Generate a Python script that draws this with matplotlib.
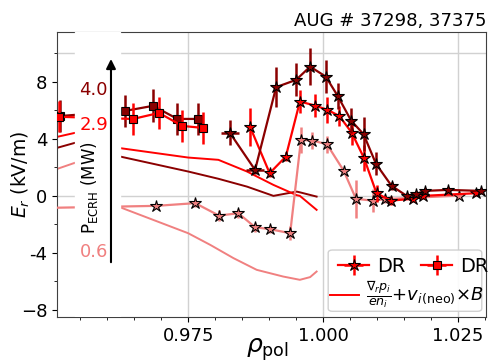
import numpy as np
import matplotlib
matplotlib.use('Agg')
import matplotlib.pyplot as plt
from matplotlib.patches import FancyBboxPatch

# Doppler reflectometry, stars (three heating levels)
rho_hi = [0.9827, 0.9874, 0.9913, 0.9950, 0.9976, 1.0005, 1.0027, 1.0052, 1.0075,
          1.0098, 1.0127, 1.0155, 1.0172, 1.0189, 1.0232, 1.0292]
er_hi = [4.44, 1.82, 7.63, 8.14, 9.07, 8.37, 7.02, 5.28, 4.33, 2.25, 0.70, 0.0,
         0.14, 0.35, 0.42, 0.35]
dy_hi = [0.85, 0.3, 1.4, 1.15, 1.3, 1.15, 0.9, 0.9, 1.2, 0.8, 0.3, 0.2, 0.2, 0.2, 0.2, 0.2]
dx_hi = [0.0017, 0.0016, 0.0005, 0.0005, 0.0005, 0.0005, 0.0005, 0.0005, 0.0005,
         0.0005, 0.0005, 0.0005, 0.0005, 0.0005, 0.0005, 0.0005]

rho_mid = [0.9865, 0.9901, 0.9931, 0.9957, 0.9985, 1.0008, 1.0030, 1.0053, 1.0076,
           1.0099, 1.0125, 1.0166, 1.0186, 1.0284]
er_mid = [4.82, 1.59, 2.76, 6.62, 6.34, 6.04, 5.61, 4.44, 2.64, 0.19, -0.33, -0.21,
          0.0, 0.19]
dy_mid = [1.35, 0.3, 0.3, 0.8, 0.8, 0.9, 0.7, 0.9, 0.9, 0.6, 0.3, 0.2, 0.2, 0.2]

rho_lo = [0.9480, 0.9691, 0.9763, 0.9807, 0.9843, 0.9874, 0.9902, 0.9939, 0.9959,
          0.9980, 1.0007, 1.0038, 1.0061, 1.0092, 1.0115, 1.0251]
er_lo = [-0.85, -0.70, -0.51, -1.38, -1.22, -2.20, -2.34, -2.62, 3.93, 3.88, 3.63,
         1.78, -0.21, -0.33, -0.23, 0.02]
dy_lo = [0.2, 0.2, 0.3, 0.4, 0.3, 0.3, 0.3, 0.5, 0.9, 0.6, 0.6, 0.2, 1.35, 0.8, 0.3, 0.2]

# Doppler reflectometry, squares
rho_sq_hi = [0.9512, 0.9633, 0.9685, 0.9730, 0.9769]
er_sq_hi = [5.6, 5.96, 6.32, 5.40, 5.40]
rho_sq_mid = [0.9470, 0.9510, 0.9648, 0.9696, 0.9739, 0.9777]
er_sq_mid = [5.7, 5.55, 5.40, 5.82, 4.91, 4.77]

# neoclassical Er
rho_neo = [0.9507, 0.9540, 0.9624, 0.9750, 0.9806, 0.9859, 0.9908, 0.9951, 0.9957, 0.9988]
neo_hi = [3.37, 3.72, 2.76, 1.71, 1.20, 0.65, 0.0, 0.30, 0.25, -0.05]
neo_mid = [4.14, 4.42, 3.35, 2.69, 2.53, 1.71, 0.77, 0.05, 0.0, -0.98]
rho_neo_lo = [0.9507, 0.9540, 0.9624, 0.9750, 0.9791, 0.9834, 0.9877, 0.9926, 0.9957,
              0.9976, 0.9988]
neo_lo = [1.89, 2.32, -0.80, -2.62, -3.44, -4.37, -5.19, -5.66, -5.89, -5.70, -5.31]

c_hi, c_mid, c_lo = '#8b0000', '#ff0000', '#f08080'

fig, ax = plt.subplots(figsize=(4.89, 3.62), dpi=100)
fig.subplots_adjust(left=0.1166, right=0.994, top=0.9116, bottom=0.1243)

ax.axhline(0, color='0.82', lw=1, zorder=0)
ax.axhline(10, color='0.82', lw=1, zorder=0)
for xv in [0.975, 1.0, 1.025]:
    ax.axvline(xv, color='0.82', lw=1, zorder=0)

ax.plot(rho_neo_lo, neo_lo, color=c_lo, lw=1.4, zorder=2)
ax.plot(rho_neo, neo_hi, color=c_hi, lw=1.4, zorder=2)
neo_line, = ax.plot(rho_neo, neo_mid, color=c_mid, lw=1.4, zorder=2)

kw = dict(mec='k', mew=0.8, elinewidth=1.8, capsize=0, lw=1.6)
ax.errorbar(rho_lo, er_lo, yerr=dy_lo, xerr=0.0005, fmt='-*', ms=9, color=c_lo,
            zorder=3, **kw)
st = ax.errorbar(rho_mid, er_mid, yerr=dy_mid, xerr=0.0005, fmt='-*', ms=9, color=c_mid,
                 zorder=4, **kw)
ax.errorbar(rho_hi, er_hi, yerr=dy_hi, xerr=dx_hi, fmt='-*', ms=9, color=c_hi,
            zorder=5, **kw)
ax.errorbar(rho_sq_hi, er_sq_hi, yerr=1.15, xerr=0.0005, fmt='-s', ms=6, color=c_hi,
            zorder=4, **kw)
sq = ax.errorbar(rho_sq_mid, er_sq_mid, yerr=1.1, xerr=0.0005, fmt='-s', ms=6, color=c_mid,
                 zorder=5, **kw)

# blank strip for the heating power scale
ax.axvspan(0.9541, 0.9624, color='white', zorder=6)
ax.annotate('', xy=(0.9607, 9.8), xytext=(0.9607, -4.85),
            arrowprops=dict(arrowstyle='-|>', color='k', lw=1.5, mutation_scale=14), zorder=7)
ax.text(0.9575, 7.45, '4.0', color=c_hi, fontsize=13, ha='center', va='center', zorder=7)
ax.text(0.9575, 5.0, '2.9', color=c_mid, fontsize=13, ha='center', va='center', zorder=7)
ax.text(0.9575, -3.95, '0.6', color=c_lo, fontsize=13, ha='center', va='center', zorder=7)
ax.text(0.9567, 0.6, r'P$_{\rm ECRH}$ (MW)', rotation=90, fontsize=12, ha='center',
        va='center', zorder=7)

ax.set_xlim(0.9507, 1.0302)
ax.set_ylim(-8.5, 11.5)
ax.set_yticks([-8, -4, 0, 4, 8])
ax.set_yticklabels(['−8', '-4', '0', '4', '8'])
ax.set_yticks(np.arange(-8, 11, 2), minor=True)
ax.set_xticks([0.975, 1.0, 1.025])
ax.set_xticklabels(['0.975', '1.000', '1.025'])
ax.set_xticks(np.arange(0.955, 1.03, 0.005), minor=True)
ax.tick_params(labelsize=13)
ax.set_xlabel(r'$\rho_{\rm pol}$', fontsize=18)
ax.xaxis.set_label_coords(0.49, -0.068)
ax.set_ylabel(r'$E_r$ (kV/m)', fontsize=13.5)
ax.yaxis.set_label_coords(-0.085, 0.5)
ax.yaxis.label.set_va('center')
ax.set_title('AUG # 37298, 37375', loc='right', fontsize=13, pad=4)
for s in ax.spines.values():
    s.set_color('0.25')

# legend box: two marker entries on top, neoclassical line below
ax.add_patch(FancyBboxPatch((0.632, 0.02), 0.358, 0.215, boxstyle='round,pad=0,rounding_size=0.01',
                            transform=ax.transAxes, facecolor='white', edgecolor='0.8',
                            alpha=0.9, zorder=8))
leg1 = ax.legend([st, sq], ['DR', 'DR'], ncol=2, frameon=False, fontsize=14,
                 loc='center right', bbox_to_anchor=(1.005, 0.178), handlelength=1.6,
                 handletextpad=0.4, columnspacing=0.8, borderaxespad=0, borderpad=0)
leg1.set_zorder(9)
ax.add_artist(leg1)
leg2 = ax.legend([neo_line], [r'$\frac{\nabla_r p_i}{e n_i}$+$v_i$$_{\rm (neo)}$$\times B$'],
                 frameon=False, fontsize=13, loc='center right', bbox_to_anchor=(0.995, 0.077),
                 handlelength=1.6, handletextpad=0.4, borderaxespad=0, borderpad=0)
leg2.set_zorder(9)

fig.savefig('out.png', dpi=100)
